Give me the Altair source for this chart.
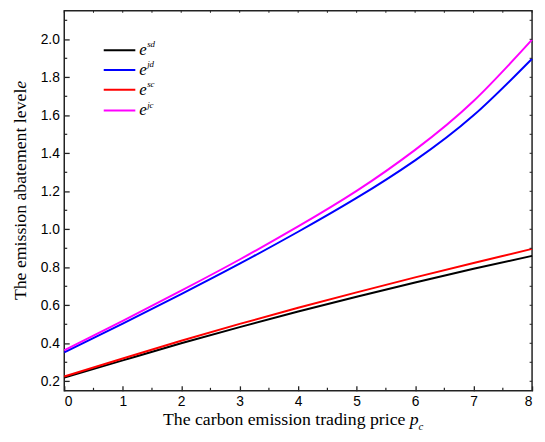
import altair as alt
import pandas as pd

# ---- data ----
p_vals = [0, 1, 2, 3, 4, 5, 6, 7, 8]
e_sd = [0.220, 0.310, 0.400, 0.485, 0.567, 0.645, 0.720, 0.792, 0.860]
e_jd = [0.352, 0.504, 0.659, 0.819, 0.987, 1.165, 1.363, 1.600, 1.898]
e_sc = [0.225, 0.320, 0.413, 0.502, 0.587, 0.668, 0.747, 0.823, 0.897]
e_jc = [0.363, 0.518, 0.677, 0.841, 1.015, 1.202, 1.418, 1.675, 1.998]

series_names = ["sd", "jd", "sc", "jc"]
series_colors = ["#000000", "#0000FF", "#FF0000", "#FF00FF"]
x_ticks = [0, 1, 2, 3, 4, 5, 6, 7, 8]
x_minor = [0.5, 1.5, 2.5, 3.5, 4.5, 5.5, 6.5, 7.5]
y_ticks = [0.2, 0.4, 0.6, 0.8, 1.0, 1.2, 1.4, 1.6, 1.8, 2.0]
y_minor = [0.3, 0.5, 0.7, 0.9, 1.1, 1.3, 1.5, 1.7, 1.9, 2.1]

rows = []
for name, vals in zip(series_names, [e_sd, e_jd, e_sc, e_jc]):
    for p, v in zip(p_vals, vals):
        rows.append({"p": p, "e": v, "series": name})
df = pd.DataFrame(rows)

W, H = 474, 385
xs = alt.Scale(domain=[0, 8], nice=False, zero=False)
ys = alt.Scale(domain=[0.15, 2.15], nice=False, zero=False)
cs = alt.Scale(domain=series_names, range=series_colors)

LBL = dict(labelFont="Liberation Sans", labelFontSize=14, labelColor="#000000")
# major ticks drawn inward: axis shifted inside by the tick length
TCK = dict(ticks=True, tickSize=5, tickColor="#222222", tickWidth=1.3, offset=-5, domain=False,
           grid=False, title=None)

main = alt.Chart(df).mark_line(strokeWidth=2, interpolate="natural").encode(
    x=alt.X("p:Q", scale=xs, axis=alt.Axis(values=x_ticks, format="d", labelPadding=4, **TCK, **LBL)),
    y=alt.Y("e:Q", scale=ys, axis=alt.Axis(values=y_ticks, format=".1f", labelPadding=5, **TCK, **LBL)),
    color=alt.Color("series:N", scale=cs, legend=None),
    detail="series:N",
)

# ---- minor inward tick marks (axis decoration), sharing the main scales/axes ----
def xticks(vals, size, top=False, width=1.2):
    y0 = 0 if top else H
    y1 = size if top else H - size
    return alt.Chart(pd.DataFrame({"p": vals})).mark_rule(color="#222222", strokeWidth=width).encode(
        x=alt.X("p:Q", scale=xs), y=alt.value(y0), y2=alt.value(y1))

def yticks(vals, size, right=False, width=1.2):
    x0 = W if right else 0
    x1 = W - size if right else size
    return alt.Chart(pd.DataFrame({"e": vals})).mark_rule(color="#222222", strokeWidth=width).encode(
        y=alt.Y("e:Q", scale=ys), x=alt.value(x0), x2=alt.value(x1))

tick_layers = [
    xticks(x_minor, 3), yticks(y_minor, 3),
    yticks(y_ticks + y_minor, 2.5, right=True, width=1.0),
    xticks(x_ticks + x_minor, 2, top=True, width=1.0),
]

# ---- axis titles ----
def txt(s, x, y, size=18, style="normal", angle=0, align="left", baseline="alphabetic"):
    return alt.Chart(pd.DataFrame({"t": [s]})).mark_text(
        font="Liberation Serif", fontSize=size, fontStyle=style, angle=angle,
        align=align, baseline=baseline, color="#000000"
    ).encode(text="t:N", x=alt.value(x), y=alt.value(y))

titles = [
    txt("The carbon emission trading price", 100, 420),
    txt("p", 350, 420, style="italic"),
    txt("c", 359, 425, size=11, style="italic"),
    txt("The emission abatement level", -39, 186, angle=270, align="center"),
    txt("e", -39, 75, angle=270, align="center", style="italic"),
]

# ---- legend ----
leg_y = [40, 60, 80, 101]
legend_layers = []
for name, col, yy in zip(series_names, series_colors, leg_y):
    legend_layers.append(
        alt.Chart(pd.DataFrame({"s": [name]})).mark_rule(color=col, strokeWidth=2).encode(
            x=alt.value(40), x2=alt.value(72), y=alt.value(yy))
    )
    legend_layers.append(txt("e", 76, yy + 5, size=17, style="italic"))
    legend_layers.append(txt(name, 84, yy - 3, size=9, style="italic"))

chart = alt.layer(main, *tick_layers, *titles, *legend_layers).properties(
    width=W, height=H,
    autosize=alt.AutoSizeParams(type="none"),
    padding={"left": 57, "top": 0, "right": 5, "bottom": 45},
).configure_view(stroke="#222222", strokeWidth=1.5)

chart.save("out.html", embed_options={"renderer": "svg", "actions": False})
